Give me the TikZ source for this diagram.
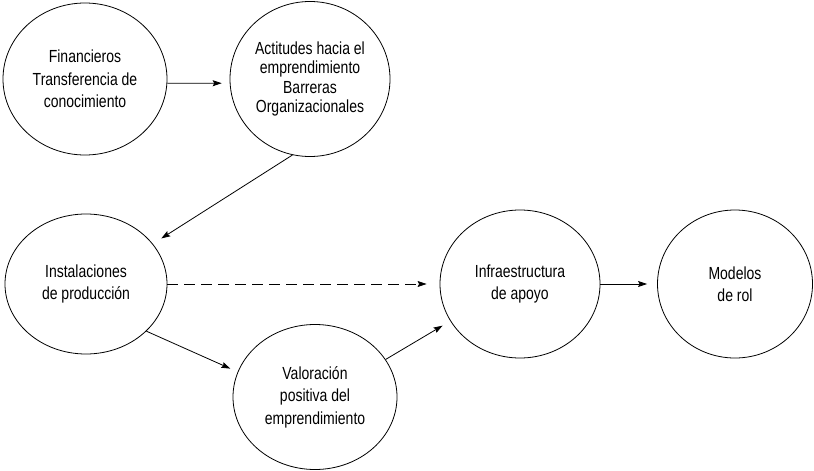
\documentclass[tikz,border=0pt]{standalone}
\usepackage{fontspec}
\setmainfont{Liberation Sans}[FakeStretch=0.8]
\usetikzlibrary{shapes.geometric,arrows.meta}
\begin{document}
\begin{tikzpicture}[x=1pt,y=-1pt,
  bubble/.style={ellipse,draw,line width=0.8pt,inner sep=0pt,align=center,
    font=\fontsize{17.5}{22.5}\selectfont},
  conn/.style={line width=0.8pt,-{Stealth[length=9pt,width=6pt,inset=1.5pt]}}]
\useasboundingbox (0,0) rectangle (814,471);
\node[bubble,minimum width=164pt,minimum height=152pt] (fin) at (85,79)
  {Financieros\\Transferencia de\\conocimiento};
\node[bubble,minimum width=160pt,minimum height=155pt,
  font=\fontsize{17.5}{19.5}\selectfont] (act) at (310,79)
  {Actitudes hacia el\\emprendimiento\\Barreras\\Organizacionales};
\node[bubble,minimum width=162pt,minimum height=140pt] (inst) at (86,284)
  {Instalaciones\\de producción};
\node[bubble,minimum width=164pt,minimum height=145pt] (val) at (315,397)
  {Valoración\\positiva del\\emprendimiento};
\node[bubble,minimum width=160pt,minimum height=148pt] (inf) at (520,284)
  {Infraestructura\\de apoyo};
\node[bubble,minimum width=155pt,minimum height=148pt] (mod) at (735,284)
  {Modelos\\de rol};
\draw[conn,shorten >=8pt] (fin.-3) -- (act.183);
\draw[conn,shorten >=10pt] (act.257) -- (inst.31);
\draw[conn,shorten >=13pt,dash pattern=on 11pt off 6pt] (inst) -- (inf);
\draw[conn,shorten >=8pt] (inst.322) -- (val.162);
\draw[conn,shorten >=9pt] (val.28) -- (inf.208);
\draw[conn,shorten >=10pt] (inf) -- (mod);
\end{tikzpicture}
\end{document}
